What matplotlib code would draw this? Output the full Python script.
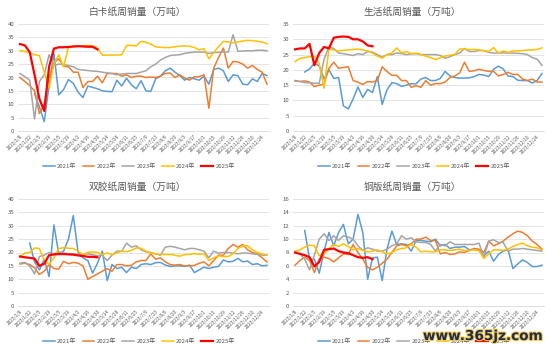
import matplotlib
matplotlib.use('Agg')
import matplotlib.pyplot as plt
import matplotlib.patheffects as pe
import numpy as np

plt.rcParams['font.family'] = ['Noto Sans CJK SC', 'DejaVu Sans']

nan = np.nan

# tick labels, one every two weeks (52 weekly points)
tick_labels = ['2023/1/8', '2023/1/22', '2023/2/5', '2023/2/19', '2023/3/5', '2023/3/19',
               '2023/4/2', '2023/4/16', '2023/4/30', '2023/5/14', '2023/5/28', '2023/6/11',
               '2023/6/25', '2023/7/9', '2023/7/23', '2023/8/6', '2023/8/20', '2023/9/3',
               '2023/9/17', '2023/10/1', '2023/10/15', '2023/10/29', '2023/11/12',
               '2023/11/26', '2023/12/10', '2023/12/24']
years = ['2021年', '2022年', '2023年', '2024年', '2025年']
colors = ['#5B9BD5', '#ED7D31', '#A5A5A5', '#FFC000', '#FF0000']
titles = ['白卡纸周销量（万吨）', '生活纸周销量（万吨）', '双胶纸周销量（万吨）', '铜版纸周销量（万吨）']

# 白卡纸
bk_2021 = [nan, nan, nan, 14, 9, 3.5, 17, 29, 13.5, 15.5, 19.2, 17.8, 14.5, 12.5, 16.8, 16.3, 15.8, 15,
           14.8, 14.7, 19, 16.8, 19.7, 17.3, 15.8, 18.8, 15, 14.8, 19.5, 20.5, 22.5, 23.5, 22, 20.7, 19,
           20, 19.5, 19, 20.5, 17.5, 23, 23.5, 22.5, 18.5, 21, 20.7, 17.5, 17.3, 19.5, 18.5, 21.5, 20.7]
bk_2022 = [20, 18.5, 17, 15, 6.5, 10, 20, 25.5, 27, 24.2, 24, 22, 22, 16.2, 18.5, 18.5, 20.5, 18, 21.5,
           21.5, 21.5, 20.5, 21, 20, 20.5, 20.5, 20, 20.2, 20, 20.5, 21.5, 21.7, 20, 21, 19.8, 19, 20.3,
           20.3, 21, 8.5, 23.5, 27.5, 31, 23.5, 26, 25.8, 25, 23.5, 24.5, 23, 22, 17.5]
bk_2023 = [21.5, 20.3, 19, 4.5, 18.5, 21, 28.5, 24.5, 25, 24.8, 24.5, 24, 23, 22.8, 22.6, 22.4, 22.3, 22,
           21.7, 21.5, 21, 21.3, 21.5, 21.5, 21.5, 22, 22.5, 24, 25, 26.5, 27.5, 28.2, 28.4, 28.5, 29,
           29.3, 29.5, 29.5, 29.5, 29, 29.3, 29.4, 29.5, 29.5, 36, 29.8, 29.9, 30, 30, 30.2, 30.2, 30]
bk_2024 = [30, 29.7, 29.2, 28.5, 28.2, 22, 16, 25, 28.5, 24, 31.3, 31.5, 31.7, 31.8, 32, 31.8, 31, 28.3,
           28.4, 28.4, 28.4, 28.5, 32, 32, 31.8, 33.5, 33.2, 32.5, 31.5, 31.3, 31.2, 31.2, 31.5, 31.7,
           31.8, 31.7, 31.2, 30.3, 30.8, 27, 29.3, 31.5, 33.5, 33.3, 33, 33.3, 33.6, 33.9, 33.8, 33.5,
           33.3, 32.6]
bk_2025 = [32.5, 32, 29.5, 21, 12, 7.5, 24, 30.8, 31.3, 31.3, 31.4, 31.6, 31.7, 31.6, 31.5, 31.5, 30.5]

# 生活纸
sh_2021 = [nan, nan, 19.3, 20.3, 22.2, 21.3, 17, 20, 17.2, 17.5, 8.2, 7.2, 10.5, 14.4, 11, 13.6, 12.6,
           17.8, 8.7, 13.5, 15.8, 15.5, 14.6, 15, 15.5, 15.4, 17, 17.5, 16.5, 16.5, 17.2, 19.5, 18, 17.5,
           17.3, 17.3, 17.4, 17.8, 18.5, 18.3, 17.8, 20.2, 21.2, 20.3, 18, 17.8, 16.6, 16.5, 16.5, 15.7,
           16.5, 18.8]
sh_2022 = [16.5, 16.2, 16.4, 16, 14.5, 15, 15.3, 20.5, 22.5, 20.5, 20.8, 21, 16.5, 16, 15.2, 16.2, 16,
           16.5, 21, 19.5, 18.2, 18.2, 16.5, 16.5, 14.3, 14.8, 14.3, 16.5, 15, 15.5, 15.5, 16, 17.5, 18,
           19, 22.5, 19.5, 19.7, 20.2, 19.8, 19.5, 19.5, 18, 18.5, 19.2, 18.5, 18.5, 17, 16.5, 17, 16, 16]
sh_2023 = [16.3, 16.2, 15.8, 15.8, 15.6, 15.6, 23.5, 27.5, 27, 25.5, 25.3, 25, 24.7, 25.3, 25, 26, 25.8,
           25, 24.2, 25, 25, 25.5, 25.3, 25, 25.2, 25.3, 25, 25, 25, 25, 24.7, 23.8, 24.3, 25, 25.5, 27,
           26, 26, 26.3, 26.3, 25.7, 25.5, 25.5, 25.6, 25.5, 25.5, 25.4, 25.3, 25, 24, 23.5, 21.5]
sh_2024 = [22.7, 23.7, 24, 24.3, 24.5, 22, 14, 26.8, 26.5, 26.2, 26.4, 26.5, 26.7, 26.8, 26.5, 26.2,
           25.5, 24.5, 23.8, 25, 25.5, 27.2, 25.5, 26, 25.3, 25.5, 25, 24.5, 24, 23.4, 24, 24.5, 24.8, 25,
           26.8, 26.8, 26.6, 26.7, 26.5, 26.3, 26, 27.3, 25.5, 26.2, 25.7, 26.2, 26.2, 26.3, 26.5, 26.5,
           26.7, 27.2]
sh_2025 = [26.7, 27, 27, 28.5, 21.5, 25.5, 27.5, 27, 30.5, 30.8, 30.9, 30.8, 30, 30, 29.3, 28, 27.7]

# 双胶纸
sj_2021 = [nan, nan, 23.5, 16.5, 13.5, 17.5, 11, 30.3, 19.5, 20.5, 25, 33.8, 20, 18, 17, 12.3, 16, 20.5,
           9.5, 15.5, 14, 14.5, 12.5, 14.5, 14, 15.5, 15.8, 15.5, 16.2, 16.3, 15.3, 14.8, 15, 15, 14.8,
           15.3, 12.5, 13.5, 14.5, 14, 14.5, 14.8, 17.2, 16.5, 16.7, 17.8, 16.5, 16.8, 15.5, 15.8, 15, 15.2]
sj_2022 = [15.7, 16, 15.5, 14.3, 11.8, 13, 15.5, 14, 13.8, 16.7, 15.8, 16.3, 16, 15, 10, 11, 12, 13, 14,
           13, 15.5, 15.5, 15, 15.2, 16.5, 17, 17, 19.5, 17.5, 18, 16.5, 15.5, 15.3, 15.5, 15, 15, 15.2,
           16, 16.5, 15, 17, 19, 19, 21.5, 23, 22, 23, 21, 20, 19.5, 18, 16.5]
sj_2023 = [16, 16.3, 15, 12, 18.5, 19, 20, 19.5, 20.3, 19.8, 19.5, 19.5, 19.3, 19.3, 19.5, 19.2, 18.8,
           19, 17, 19, 20.5, 20.5, 23.5, 22, 22.5, 21, 20.3, 20, 19.5, 19, 22, 22.3, 22, 21.5, 21, 21.5,
           21.5, 21, 20.5, 18, 20.5, 19.8, 20, 20, 19.8, 19.5, 19.8, 19.8, 19.5, 19.3, 19, 19]
sj_2024 = [18.5, 19.8, 20, 21.7, 21.5, 17, 15.5, 18, 21.5, 21.8, 21.6, 21.5, 20.5, 19.2, 20, 20.2, 20,
           19.2, 19.8, 19.2, 19.8, 20.5, 20.3, 20.8, 21.7, 21.6, 20.5, 19.8, 19.5, 19.3, 19.2, 19.3, 19,
           18.6, 19.2, 19.3, 19.6, 19.3, 19.5, 17, 18, 18.7, 18.5, 18.5, 19.5, 21.5, 22.5, 22.5, 21, 20,
           19.5, 19]
sj_2025 = [18.5, 18.2, 18, 17.7, 15, 15.8, 19, 19.3, 19.4, 19.4, 19.3, 19.2, 18.9, 18.7, 18.4, 18.4, 18.2]

# 铜版纸
tb_2021 = [nan, nan, 11.3, 7.0, 7.0, 4.9, 8.2, 11, 9, 11, 12.2, 9.3, 10, 13.7, 11, 4.0, 7.2, 7.3, 3.8,
           8.5, 11.2, 9.2, 9.3, 9.2, 8.2, 9.8, 9.8, 9.7, 9.6, 10, 9, 9.2, 8.6, 8.8, 8.8, 8.9, 8.4, 8.5,
           8.3, 7.5, 8.2, 6.7, 7.7, 8.2, 8.4, 5.6, 6.3, 6.9, 6.5, 5.9, 5.9, 6.1]
tb_2022 = [6.1, 6.8, 7.3, 6.8, 5, 7, 7.3, 7.1, 6.6, 7.2, 7.8, 7.7, 9.2, 8, 7, 5.8, 5.4, 5.8, 6.4, 7, 8, 9,
           9.2, 9.0, 9.3, 10, 10, 10.3, 9.8, 9.8, 7.8, 8, 7.7, 7.8, 8.1, 8, 8.3, 8.6, 8.5, 8, 9.7, 9, 9.3,
           9.7, 10.3, 10.8, 11.2, 11, 10.5, 9.7, 9.2, 8.5]
tb_2023 = [8, 7.8, 7.0, 5.4, 7.6, 10, 10.8, 9.8, 10.5, 9.8, 10.5, 10.3, 10, 9, 8.3, 8.7, 8.5, 8.2, 8.2,
           8.5, 9, 9.3, 10.5, 10, 10.2, 9.6, 9.5, 9.5, 9.2, 8.2, 9.2, 9.0, 9.6, 9.2, 9.2, 9.2, 9.2, 9.2,
           9.4, 7.3, 9.7, 9.9, 9.5, 9.5, 8.2, 8.5, 8.5, 8.6, 8.5, 8.4, 8.3, 8.2]
tb_2024 = [8.2, 8.4, 8.8, 9.1, 9, 7.5, 7.8, 8.6, 9.2, 8.9, 9.3, 8.9, 8.4, 8.6, 8.3, 8.1, 8.2, 8.4, 8.1,
           7.8, 8.0, 8.4, 8.6, 8.7, 9.2, 8.8, 8.1, 8.2, 8.1, 8.1, 8.4, 8.4, 8.3, 8.4, 8.5, 8.3, 8.3, 8.4,
           8.3, 7.1, 7.8, 8.4, 8.4, 8.3, 8.5, 8.9, 9.2, 9.4, 9.0, 8.8, 8.7, 8.4]
tb_2025 = [8, 7.8, 7.6, 7.3, 5.9, 6.6, 8.4, 8.5, 8.6, 8.2, 8.0, 7.9, 7.6, 7.3, 7.2, 7.3, 7.0]

panels = [
    (titles[0], [bk_2021, bk_2022, bk_2023, bk_2024, bk_2025], 40, 5),
    (titles[1], [sh_2021, sh_2022, sh_2023, sh_2024, sh_2025], 35, 5),
    (titles[2], [sj_2021, sj_2022, sj_2023, sj_2024, sj_2025], 40, 5),
    (titles[3], [tb_2021, tb_2022, tb_2023, tb_2024, tb_2025], 16, 2),
]

W, H = 550, 351
fig = plt.figure(figsize=(W / 100, H / 100), dpi=100)

# panel origins in pixels (top-left)
origins = [(0, 0), (275, 0), (0, 175), (275, 175)]
txt = '#595959'

for (title, series, ymax, ystep), (ox, oy) in zip(panels, origins):
    left = (ox + 17.6) / W
    right = (ox + 269.4) / W
    top = 1 - (oy + 24) / H
    bottom = 1 - (oy + 131) / H
    ax = fig.add_axes([left, bottom, right - left, top - bottom])
    for s, c, lab in zip(series, colors, years):
        x = np.arange(len(s))
        lw = 1.6 if lab == '2025年' else 1.1
        ax.plot(x, s, color=c, lw=lw, label=lab, solid_joinstyle='round')
    ax.set_xlim(-0.5, 51.5)
    ax.set_ylim(0, ymax)
    ax.set_yticks(np.arange(0, ymax + 0.1, ystep))
    ax.set_xticks(np.arange(0, 52, 2))
    ax.set_xticklabels(tick_labels, rotation=45, ha='right', rotation_mode='anchor')
    ax.tick_params(axis='x', length=0, labelsize=3.4, labelcolor=txt, pad=2)
    ax.tick_params(axis='y', length=0, labelsize=4.3, labelcolor=txt, pad=2.5)
    ax.grid(axis='y', color='#D9D9D9', lw=0.5)
    ax.set_axisbelow(True)
    for sp in ['top', 'right', 'left']:
        ax.spines[sp].set_visible(False)
    ax.spines['bottom'].set_color('#D9D9D9')
    ax.spines['bottom'].set_linewidth(0.6)
    fig.text((ox + 137.5) / W, 1 - (oy + 12) / H, title, ha='center', va='center',
             fontsize=7, color=txt)
    ax.legend(loc='center', bbox_to_anchor=((ox + 139) / W, 1 - (oy + 166) / H),
              bbox_transform=fig.transFigure, ncol=5, frameon=False, fontsize=4.3,
              handlelength=2.0, handletextpad=0.4, columnspacing=1.0, labelcolor=txt)

# site watermark, drawn over the last legend like in the source image
fig.text(483 / W, 1 - 336 / H, 'www.365jz.com', ha='center', va='center', fontsize=9.8,
         fontweight='bold', color='#1c2b5a', family='DejaVu Sans', zorder=10,
         path_effects=[pe.withStroke(linewidth=1.5, foreground='#f5c842')])

plt.savefig('out.png', dpi=100)
